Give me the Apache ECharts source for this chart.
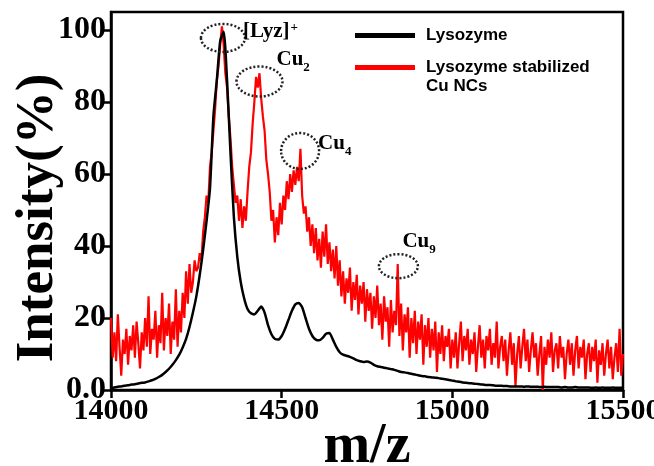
<!DOCTYPE html>
<html>
<head>
<meta charset="utf-8">
<script src="https://cdn.jsdelivr.net/npm/echarts@6/dist/echarts.min.js"></script>
<style>
  html, body { margin: 0; padding: 0; background: #fff; }
  #main { width: 654px; height: 466px; }
</style>
</head>
<body>
<div id="main"></div>
<script>
// m/z grid: black trace every 10, red trace every 5
var mzStart = 14000;
var blackStep = 10;
var redStep = 5;
var xTicks = [14000, 14500, 15000, 15500];
var yTicks = [0, 20, 40, 60, 80, 100];

// Lysozyme (black)
var lysozyme = [
  0.5, 0.7, 0.9, 1.0, 1.2, 1.3, 1.5, 1.6, 1.8, 2.0,
  2.1, 2.4, 2.7, 3.1, 3.6, 4.2, 5.0, 5.9, 7.0, 8.3,
  9.8, 11.8, 14.2, 17.5, 21.5, 26, 32, 39, 47, 56,
  76, 86, 97, 99.5, 86, 66, 48, 37, 30, 25.5,
  22.5, 21.3, 21, 22, 23.2, 21.5, 18, 15.5, 14.2, 14,
  15, 17, 19.5, 22, 23.8, 24.2, 23, 20, 17, 15,
  14, 13.8, 14.5, 15.6, 15.8, 14, 12, 10.5, 9.8, 9.5,
  9.2, 8.8, 8.3, 8, 7.8, 7.9, 7.6, 7, 6.6, 6.4,
  6.2, 6.0, 5.8, 5.6, 5.3, 5.0, 4.9, 4.7, 4.5, 4.3,
  4.1, 3.9, 3.8, 3.6, 3.5, 3.4, 3.3, 3.1, 3.0, 2.8,
  2.6, 2.4, 2.3, 2.1, 2.0, 1.9, 1.8, 1.7, 1.6, 1.5,
  1.4, 1.4, 1.3, 1.2, 1.2, 1.1, 1.1, 1.0, 1.0, 1.0,
  1.0, 0.9, 1.0, 0.9, 0.9, 0.9, 0.8, 0.9, 0.8, 0.8,
  0.8, 0.8, 0.7, 0.8, 0.7, 0.7, 0.8, 0.7, 0.7, 0.7,
  0.7, 0.6, 0.7, 0.6, 0.7, 0.6, 0.6, 0.7, 0.6, 0.6,
  0.6
];

// Lysozyme stabilized Cu NCs (red)
var cuNCs = [
  20, 9, 16, 8, 21, 12, 4, 14, 10, 17,
  7, 15, 11, 18, 9, 19, 13, 6, 16, 11,
  20, 12, 26, 10, 17, 14, 22, 9, 18, 13,
  27, 11, 20, 15, 24, 10, 19, 14, 28, 12,
  22, 16, 27, 20, 33, 24, 35, 27, 30, 36,
  33, 34, 38, 36, 44, 48, 54, 52, 62, 66,
  72, 78, 86, 90, 96, 101, 96, 88, 84, 76,
  70, 62, 57, 52, 54, 47, 53, 45, 51, 47,
  55, 62, 66, 74, 80, 87, 84, 88, 81, 76,
  72, 64, 60, 55, 47, 50, 41, 48, 43, 52,
  46, 54, 50, 58, 53, 60, 55, 61, 57, 62,
  58, 67, 54, 49, 51, 44, 48, 40, 46, 38,
  45, 36, 42, 34, 44, 37, 46, 35, 41, 33,
  39, 31, 40, 29, 36, 26, 33, 24, 31, 27,
  34, 22, 30, 25, 32, 21, 29, 24, 30, 19,
  28, 22, 27, 17, 26, 20, 29, 18, 24, 14,
  26, 19, 23, 12, 25, 16, 22, 18, 35, 15,
  24, 11, 21, 16, 23, 9, 20, 13, 22, 10,
  19, 14, 21, 7, 18, 12, 20, 9, 17, 11,
  19, 5, 16, 10, 18, 8, 15, 12, 17, 6,
  14, 9, 16, 6, 13, 19, 8, 15, 11, 17,
  7, 14, 10, 16, 5, 12, 18, 9, 14, 6,
  15, 11, 17, 7, 13, 9, 19, 6, 12, 15,
  8, 14, 4, 11, 16, 7, 13, 1, 10, 15,
  6, 12, 17, 8, 14, 5, 11, 16, 9, 13,
  4, 10, 15, 0, 12, 7, 14, 9, 16, 5,
  11, 13, 6, 15, 9, 12, 3, 10, 14, 7,
  13, 4, 11, 15, 6, 12, 9, 14, 3, 10,
  13, 5, 12, 8, 14, 2, 11, 7, 13, 4,
  10, 14, 6, 12, 3, 9, 13, 5, 17, 4,
  10
];

// peak annotations (centre of dotted ring, in data units)
var peakNames = ['Lyz', 'Cu2', 'Cu4', 'Cu9'];
var peakMz = [14328, 14435, 14554, 14842];
var peakInt = [97.8, 85.7, 66.4, 34.4];
var peakLabels = ['{b|[Lyz]}{sup|+}', '{b|Cu}{sub|2}', '{b|Cu}{sub|4}', '{b|Cu}{sub|9}'];

// ring size and label offset (pixels)
var ringStyle = [
  { rx: 22, ry: 14, dx: 20, dy: -17 },
  { rx: 23, ry: 15, dx: 17, dy: -32 },
  { rx: 19, ry: 18, dx: 18, dy: -18 },
  { rx: 19.5, ry: 12, dx: 4, dy: -35 }
];

var serif = 'Liberation Serif';

function toPairs(vals, step) {
  return vals.map(function (v, i) { return [mzStart + i * step, v]; });
}

var peakData = peakNames.map(function (n, i) { return [peakMz[i], peakInt[i], i]; });

const chart = echarts.init(document.getElementById('main'));
var option = {
  animation: false,
  backgroundColor: '#fff',
  grid: {
    left: 111, right: 31, top: 12, bottom: 76,
    outerBoundsMode: 'none',
    containLabel: false,
    show: true, borderColor: '#000', borderWidth: 2.5
  },
  legend: {
    orient: 'vertical',
    left: 350,
    top: 21,
    itemWidth: 60,
    itemHeight: 5,
    itemGap: -6,
    icon: 'rect',
    selectedMode: false,
    formatter: function (name) {
      // blank first line keeps the icon level with "Lysozyme stabilized"
      return name === 'Lysozyme' ? name : '\n' + name;
    },
    textStyle: {
      fontFamily: 'Liberation Sans', fontWeight: 'bold', fontSize: 17,
      lineHeight: 19, color: '#000', padding: [0, 0, 0, 6]
    },
    data: ['Lysozyme', 'Lysozyme stabilized\nCu NCs']
  },
  xAxis: {
    type: 'value',
    min: 14000, max: 15500, interval: 500,
    name: 'm/z',
    nameLocation: 'middle',
    nameGap: 30,
    nameMoveOverlap: false,
    nameTextStyle: { fontFamily: serif, fontWeight: 'bold', fontSize: 56, color: '#000' },
    axisLine: { lineStyle: { color: '#000', width: 2.5 } },
    axisTick: { inside: false, length: 8, lineStyle: { color: '#000', width: 2.5 } },
    axisLabel: {
      margin: 6, color: '#000', fontFamily: serif, fontWeight: 'bold', fontSize: 30,
      customValues: xTicks,
      formatter: function (v) { return String(v); }
    },
    splitLine: { show: false }
  },
  yAxis: {
    type: 'value',
    min: 0, max: 105,
    name: 'Intensity(%)',
    nameLocation: 'middle',
    nameGap: 46,
    nameMoveOverlap: false,
    nameTextStyle: {
      fontFamily: serif, fontWeight: 'bold', fontSize: 53, color: '#000',
      padding: [0, 34, 0, 0]
    },
    axisLine: { lineStyle: { color: '#000', width: 2.5 } },
    axisTick: { inside: false, length: 8, lineStyle: { color: '#000', width: 2.5 }, customValues: yTicks },
    axisLabel: {
      margin: 5, color: '#000', fontFamily: serif, fontWeight: 'bold', fontSize: 32,
      customValues: yTicks,
      formatter: function (v) { return v === 0 ? '0.0' : String(v); }
    },
    splitLine: { show: false }
  },
  series: [
    {
      name: 'Lysozyme stabilized\nCu NCs',
      type: 'line',
      data: toPairs(cuNCs, redStep),
      showSymbol: false,
      symbol: 'none',
      lineStyle: { color: '#ff0000', width: 2.2 },
      itemStyle: { color: '#ff0000' },
      z: 2
    },
    {
      name: 'Lysozyme',
      type: 'line',
      data: toPairs(lysozyme, blackStep),
      showSymbol: false,
      symbol: 'none',
      smooth: 0.2,
      lineStyle: { color: '#000', width: 2.5 },
      itemStyle: { color: '#000' },
      z: 3
    },
    {
      type: 'custom',
      silent: true,
      z: 4,
      clip: false,
      data: peakData,
      renderItem: function (params, api) {
        var p = api.coord([api.value(0), api.value(1)]);
        var s = ringStyle[params.dataIndex];
        return {
          type: 'group',
          children: [
            {
              type: 'ellipse',
              shape: { cx: p[0], cy: p[1], rx: s.rx, ry: s.ry },
              style: { fill: 'none', stroke: '#222', lineWidth: 2.5, lineDash: [2, 2] }
            },
            {
              type: 'text',
              x: p[0] + s.dx,
              y: p[1] + s.dy,
              style: {
                text: peakLabels[params.dataIndex],
                rich: {
                  b: { fontFamily: serif, fontWeight: 'bold', fontSize: 21, lineHeight: 22, verticalAlign: 'top', fill: '#000' },
                  sub: { fontFamily: serif, fontWeight: 'bold', fontSize: 13, lineHeight: 13, verticalAlign: 'top', padding: [12, 0, 0, 0], fill: '#000' },
                  sup: { fontFamily: serif, fontWeight: 'bold', fontSize: 13, lineHeight: 13, verticalAlign: 'top', padding: [0, 0, 0, 1], fill: '#000' }
                }
              }
            }
          ]
        };
      }
    }
  ]
};
option && chart.setOption(option);
</script>
</body>
</html>
